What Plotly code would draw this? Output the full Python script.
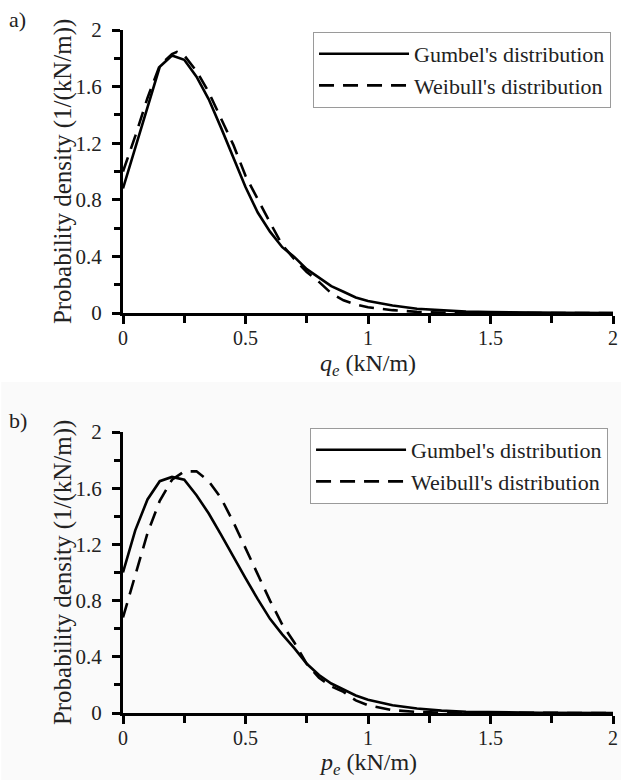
import plotly.graph_objects as go

# ---------------- data ----------------
x_top = [0, 0.05, 0.10, 0.15, 0.20, 0.25, 0.30, 0.35, 0.40, 0.45, 0.50, 0.55, 0.60,
         0.65, 0.70, 0.75, 0.80, 0.85, 0.90, 0.95, 1.00, 1.10, 1.20, 1.30, 1.40,
         1.50, 1.60, 1.80, 2.00]
gumbel_top = [0.88, 1.17, 1.45, 1.74, 1.82, 1.79, 1.67, 1.51, 1.31, 1.10, 0.89, 0.71,
              0.575, 0.465, 0.395, 0.31, 0.25, 0.19, 0.15, 0.11, 0.085, 0.053, 0.03,
              0.018, 0.01, 0.006, 0.003, 0.001, 0.0]
x_top_w = [0, 0.05, 0.10, 0.15, 0.20, 0.22, 0.25, 0.30, 0.35, 0.40, 0.45, 0.50, 0.55,
           0.60, 0.65, 0.70, 0.75, 0.80, 0.85, 0.90, 0.95, 1.00, 1.10, 1.20, 1.30,
           1.50, 2.00]
weibull_top = [1.0, 1.25, 1.52, 1.75, 1.83, 1.845, 1.82, 1.71, 1.56, 1.38, 1.19, 0.97,
               0.80, 0.64, 0.48, 0.38, 0.29, 0.22, 0.14, 0.09, 0.06, 0.04, 0.02, 0.008,
               0.003, 0.0, 0.0]

x_bot = [0, 0.05, 0.10, 0.15, 0.20, 0.25, 0.30, 0.35, 0.40, 0.45, 0.50, 0.55, 0.60,
         0.65, 0.70, 0.75, 0.80, 0.85, 0.90, 0.95, 1.00, 1.10, 1.20, 1.30, 1.40,
         1.50, 1.70, 2.00]
gumbel_bot = [1.0, 1.30, 1.52, 1.65, 1.68, 1.66, 1.55, 1.42, 1.27, 1.11, 0.96, 0.81,
              0.67, 0.56, 0.46, 0.35, 0.27, 0.21, 0.165, 0.125, 0.095, 0.055, 0.032,
              0.017, 0.009, 0.005, 0.002, 0.0]
x_bot_w = [0, 0.05, 0.10, 0.15, 0.20, 0.25, 0.30, 0.35, 0.40, 0.45, 0.50, 0.55, 0.60,
           0.65, 0.70, 0.75, 0.80, 0.85, 0.90, 0.95, 1.00, 1.10, 1.20, 1.30, 1.50, 2.00]
weibull_bot = [0.68, 0.98, 1.28, 1.51, 1.66, 1.72, 1.72, 1.65, 1.53, 1.36, 1.17, 0.98,
               0.80, 0.63, 0.50, 0.35, 0.25, 0.19, 0.15, 0.09, 0.055, 0.02, 0.008,
               0.002, 0.0, 0.0]

name_g = "Gumbel's distribution"
name_w = "Weibull's distribution"
y_title = "Probability density (1/(kN/m))"
x_title_top = "<i>q<sub>e</sub></i> (kN/m)"
x_title_bot = "<i>p<sub>e</sub></i> (kN/m)"

# ---------------- figure ----------------
FONT = "Times New Roman, Liberation Serif, DejaVu Serif, serif"
TXT = "#222"
W, H = 621, 780
L, R, T, B = 123, 3, 30, 67
ph = H - T - B
top_dom = [(713 - 313) / ph, 1.0]
bot_dom = [0.0, (713 - 432) / ph]

fig = go.Figure()
line_w = 2.6
dash = "15px,9px"
fig.add_trace(go.Scatter(x=x_top, y=gumbel_top, mode="lines", name=name_g,
                         line=dict(color="black", width=line_w), xaxis="x", yaxis="y",
                         legend="legend"))
fig.add_trace(go.Scatter(x=x_top_w, y=weibull_top, mode="lines", name=name_w,
                         line=dict(color="black", width=line_w, dash=dash), xaxis="x", yaxis="y",
                         legend="legend"))
fig.add_trace(go.Scatter(x=x_bot, y=gumbel_bot, mode="lines", name=name_g,
                         line=dict(color="black", width=line_w), xaxis="x2", yaxis="y2",
                         legend="legend2"))
fig.add_trace(go.Scatter(x=x_bot_w, y=weibull_bot, mode="lines", name=name_w,
                         line=dict(color="black", width=line_w, dash=dash), xaxis="x2", yaxis="y2",
                         legend="legend2"))

xa = dict(range=[0, 2], dtick=0.5, tick0=0, showline=True, linewidth=3, linecolor="black",
          ticks="outside", ticklen=8, tickwidth=2.5, tickcolor="black",
          minor=dict(dtick=0.25, ticks="outside", ticklen=7, tickwidth=2.5, tickcolor="black"),
          showgrid=False, zeroline=False, ticklabelstandoff=-3,
          ticklabeloverflow="allow",
          tickfont=dict(family=FONT, size=20, color=TXT))
ya = dict(range=[0, 2], dtick=0.4, tick0=0, showline=True, linewidth=3, linecolor="black",
          ticks="outside", ticklen=8, tickwidth=2.5, tickcolor="black",
          minor=dict(dtick=0.2, ticks="outside", ticklen=6, tickwidth=2.5, tickcolor="black"),
          showgrid=False, zeroline=False, ticklabelstandoff=6,
          ticklabeloverflow="allow",
          tickfont=dict(family=FONT, size=21, color=TXT))

leg = dict(font=dict(family=FONT, size=22, color=TXT), bgcolor="white",
           bordercolor="#9a9a9a", borderwidth=1, itemwidth=90, xanchor="right",
           yanchor="top", tracegroupgap=0)

fig.update_layout(
    width=W, height=H, autosize=False,
    margin=dict(l=L, r=R, t=T, b=B, pad=0),
    paper_bgcolor="white", plot_bgcolor="rgba(0,0,0,0)",
    font=dict(family=FONT, color=TXT),
    xaxis=dict(xa, domain=[0, 1], anchor="y"),
    yaxis=dict(ya, domain=top_dom, anchor="x"),
    xaxis2=dict(xa, domain=[0, 1], anchor="y2"),
    yaxis2=dict(ya, domain=bot_dom, anchor="x2"),
    legend=dict(leg, x=(616 - L) / (W - L - R), y=(713 - 32) / ph),
    legend2=dict(leg, x=(613 - L) / (W - L - R), y=(713 - 428) / ph),
    shapes=[dict(type="rect", xref="paper", yref="paper", layer="below",
                 x0=-L / (W - L - R), x1=1.02, y0=(713 - 780) / ph, y1=(713 - 382) / ph,
                 fillcolor="#fafafa", line=dict(width=0))],
)

def px_x(p):
    return (p - L) / (W - L - R)

def px_y(p):
    return (713 - p) / ph

ann = []
for cy in [(30 + 313) / 2, (432 + 713) / 2]:
    ann.append(dict(text=y_title, textangle=-90, x=px_x(62), y=px_y(cy), xref="paper",
                    yref="paper", showarrow=False, xanchor="center", yanchor="middle",
                    font=dict(family=FONT, size=25, color=TXT)))
ann.append(dict(text=x_title_top, x=px_x(370), y=px_y(365), xref="paper", yref="paper",
                showarrow=False, xanchor="center", yanchor="middle",
                font=dict(family=FONT, size=24, color=TXT)))
ann.append(dict(text=x_title_bot, x=px_x(370), y=px_y(764), xref="paper", yref="paper",
                showarrow=False, xanchor="center", yanchor="middle",
                font=dict(family=FONT, size=24, color=TXT)))
ann.append(dict(text="a)", x=px_x(6), y=px_y(20), xref="paper", yref="paper",
                showarrow=False, xanchor="left", yanchor="middle",
                font=dict(family=FONT, size=22, color=TXT)))
ann.append(dict(text="b)", x=px_x(6), y=px_y(420), xref="paper", yref="paper",
                showarrow=False, xanchor="left", yanchor="middle",
                font=dict(family=FONT, size=22, color=TXT)))
fig.update_layout(annotations=ann)

fig.write_html("out.html")
